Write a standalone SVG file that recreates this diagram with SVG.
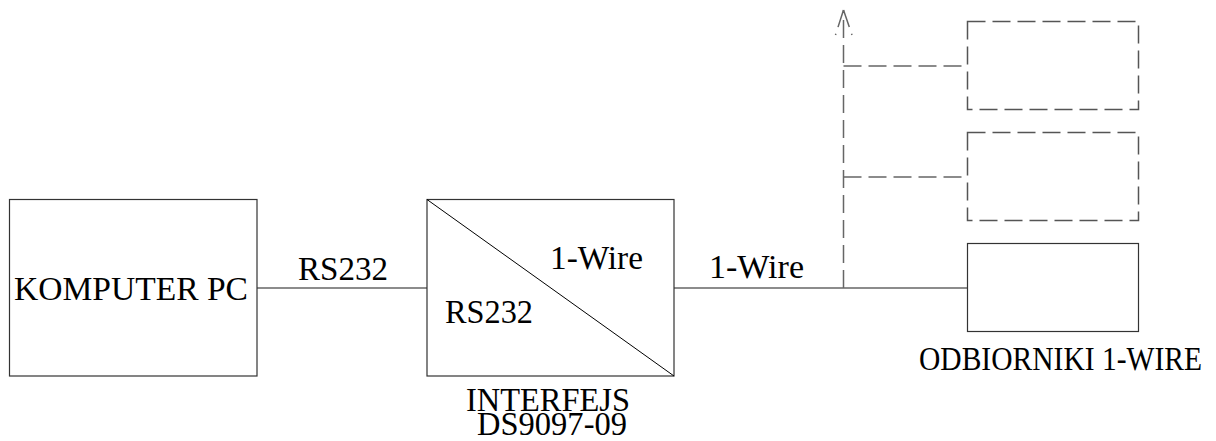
<svg xmlns="http://www.w3.org/2000/svg" width="1216" height="441" viewBox="0 0 1216 441">
<style>
text{font-family:"Liberation Serif","Times New Roman",serif;font-size:33px;fill:#000}
.box{fill:#fff;stroke:#333;stroke-width:1.2}
.dbox{fill:none;stroke:#555;stroke-width:1.5;stroke-dasharray:18 7}
.wire{fill:none;stroke:#666;stroke-width:1.5}
.dwire{fill:none;stroke:#666;stroke-width:1.5;stroke-dasharray:18 7}
</style>
<rect width="1216" height="441" fill="#fff"/>
<g id="connectors">
<line class="wire" x1="257" y1="288" x2="427" y2="288"/>
<line class="wire" x1="674" y1="288" x2="967" y2="288"/>
<path class="dwire" d="M843.5 288 V10"/>
<path class="dwire" d="M843.5 10 L835.5 35 M843.5 10 L852 35"/>
<line class="dwire" x1="843.5" y1="66" x2="967" y2="66"/>
<line class="dwire" x1="843.5" y1="177" x2="967" y2="177"/>
<text x="298" y="280" textLength="90" lengthAdjust="spacingAndGlyphs">RS232</text>
<text x="709" y="278" textLength="95" lengthAdjust="spacingAndGlyphs">1-Wire</text>
</g>
<g id="pc">
<rect class="box" x="9.5" y="199.5" width="247.5" height="176.5"/>
<text x="14" y="300" textLength="234" lengthAdjust="spacingAndGlyphs">KOMPUTER PC</text>
</g>
<g id="interfejs">
<rect class="box" x="427" y="199.5" width="247" height="176.5"/>
<line x1="427" y1="199.5" x2="674" y2="376" stroke="#000" stroke-width="1"/>
<text x="550" y="269" textLength="93" lengthAdjust="spacingAndGlyphs">1-Wire</text>
<text x="445" y="323" textLength="88" lengthAdjust="spacingAndGlyphs">RS232</text>
<text x="466" y="411" textLength="164" lengthAdjust="spacingAndGlyphs">INTERFEJS</text>
<text x="477" y="435" textLength="150" lengthAdjust="spacingAndGlyphs">DS9097-09</text>
</g>
<g id="odbiornik1">
<rect class="dbox" x="967.5" y="21.5" width="171" height="88"/>
</g>
<g id="odbiornik2">
<rect class="dbox" x="967.5" y="132.5" width="171" height="88"/>
</g>
<g id="odbiornik3">
<rect class="box" x="967.5" y="243.5" width="171" height="88"/>
<text x="919" y="370" textLength="283" lengthAdjust="spacingAndGlyphs">ODBIORNIKI 1-WIRE</text>
</g>
</svg>
